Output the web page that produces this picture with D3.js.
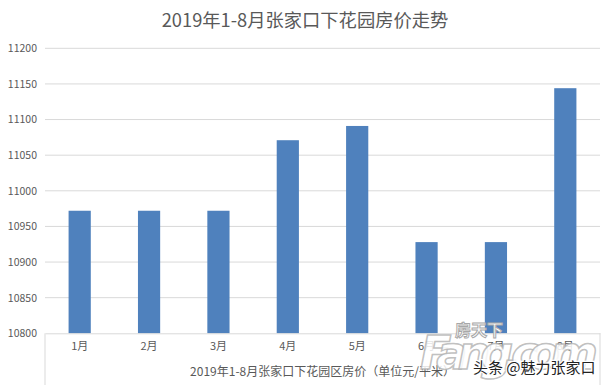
<!DOCTYPE html>
<html>
<head>
<meta charset="utf-8">
<script src="https://cdn.jsdelivr.net/npm/d3@7/dist/d3.min.js"></script>
<style>
  html, body { margin: 0; padding: 0; background: #fff; }
  svg { display: block; }
</style>
</head>
<body>
<svg id="chart" width="611" height="385"></svg>
<script>
const categories = ["1月", "2月", "3月", "4月", "5月", "6月", "7月", "8月"];
const values = [10972, 10972, 10972, 11071, 11091, 10928, 10928, 11144];
const yTicks = [10800, 10850, 10900, 10950, 11000, 11050, 11100, 11150, 11200];
const titleText = "2019年1-8月张家口下花园房价走势";
const seriesLabel = "2019年1-8月张家口下花园区房价（单位元/平米）";

(function () {
const FONT = "'Noto Sans CJK SC', 'Microsoft YaHei', sans-serif";
const svg = d3.select("#chart");
const pL = 45, pR = 600, pT = 48.3, pB = 333.3;

const x = d3.scaleBand().domain(categories).range([pL, pR]).padding(0);
const y = d3.scaleLinear().domain([10800, 11200]).range([pB, pT]);

// title
svg.append("text")
  .attr("x", 305).attr("y", 27)
  .attr("text-anchor", "middle")
  .attr("font-family", FONT).attr("font-size", 18.3)
  .attr("fill", "#595959")
  .text(titleText);

// gridlines
svg.append("g").selectAll("line")
  .data(yTicks.filter(d => d !== 10800))
  .join("line")
  .attr("x1", pL).attr("x2", pR)
  .attr("y1", d => y(d)).attr("y2", d => y(d))
  .attr("stroke", "#d9d9d9").attr("stroke-width", 1);

// y axis labels
const yAxis = d3.axisLeft(y).tickValues(yTicks).tickFormat(d3.format("d")).tickSize(0).tickPadding(8);
const gy = svg.append("g").attr("transform", `translate(${pL},0)`).call(yAxis);
gy.select(".domain").remove();
gy.selectAll("text")
  .attr("font-family", FONT).attr("font-size", 10.5)
  .attr("fill", "#595959");

// bars
const barW = x.bandwidth() * 0.32;
svg.append("g").selectAll("rect")
  .data(values)
  .join("rect")
  .attr("x", (d, i) => x(categories[i]) + x.bandwidth() / 2 - barW / 2)
  .attr("width", barW)
  .attr("y", d => y(d))
  .attr("height", d => y(10800) - y(d))
  .attr("fill", "#4f81bd");

// x axis
const xAxis = d3.axisBottom(x).tickSize(0).tickPadding(9);
const gx = svg.append("g").attr("transform", `translate(0,${pB})`).call(xAxis);
gx.select(".domain").attr("stroke", "#d9d9d9");
gx.selectAll("text")
  .attr("font-family", FONT).attr("font-size", 11)
  .attr("fill", "#595959");

// multi-level category boundaries
svg.append("g").selectAll("line")
  .data([pL, pR])
  .join("line")
  .attr("x1", d => d).attr("x2", d => d)
  .attr("y1", pB).attr("y2", 385)
  .attr("stroke", "#d9d9d9");

svg.append("text")
  .attr("x", (pL + pR) / 2).attr("y", 376)
  .attr("text-anchor", "middle")
  .attr("font-family", FONT).attr("font-size", 12)
  .attr("fill", "#595959")
  .text(seriesLabel);

// watermark
const wm = svg.append("g");
wm.append("text")
  .attr("x", 420).attr("y", 369)
  .attr("font-family", "'DejaVu Sans', sans-serif")
  .attr("font-weight", "bold").attr("font-style", "italic")
  .attr("font-size", 46)
  .attr("fill", "#ffffff").attr("fill-opacity", 0.85)
  .attr("stroke", "#b0b0b0").attr("stroke-width", 1.5).attr("stroke-opacity", 0.8)
  .attr("textLength", 178)
  .text("Fang.com");
wm.append("text")
  .attr("x", 455).attr("y", 336)
  .attr("font-family", FONT).attr("font-weight", "bold")
  .attr("font-size", 16)
  .attr("fill", "#ffffff")
  .attr("stroke", "#a8a8a8").attr("stroke-width", 1)
  .text("房天下");
wm.append("text")
  .attr("x", 473).attr("y", 373)
  .attr("font-family", FONT).attr("font-size", 15)
  .attr("fill", "#222")
  .attr("stroke", "#fff").attr("stroke-width", 2.5).attr("paint-order", "stroke")
  .text("头条 @魅力张家口");
})();
</script>
</body>
</html>
